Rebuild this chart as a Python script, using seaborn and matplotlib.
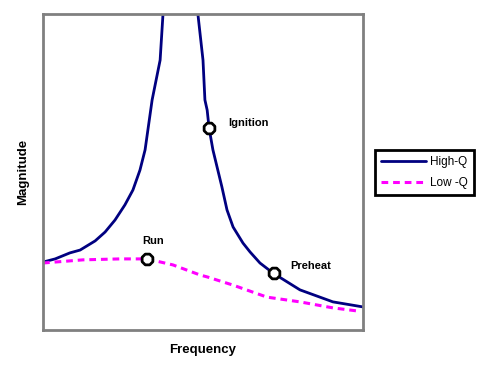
import matplotlib
matplotlib.use("Agg")
import matplotlib.pyplot as plt
import pandas as pd
import seaborn as sns

# values (x: frequency 0-100, y: magnitude 0-100)
high_q_x = [0, 3.8, 8.4, 11.6, 16.3, 19.4, 22.5, 25.6, 28.1, 30.3, 31.9, 34.1, 36.6, 37.5, 38.1,
            48.1, 48.4, 50.0, 50.6, 51.3, 51.9, 53.1, 55.9, 57.5, 59.4, 62.5, 64.7, 67.8, 71.9,
            80.3, 90.6, 100]
high_q_y = [21.5, 22.5, 24.4, 25.3, 28.2, 31.0, 34.8, 39.6, 44.3, 50.6, 57.0, 72.8, 85.4, 100, 108,
            108, 100, 85.4, 72.8, 69.6, 63.9, 57.0, 45.3, 38.0, 32.6, 27.5, 24.7, 21.2, 18.0,
            12.7, 8.9, 7.3]
low_q_x = [0, 12.5, 24.1, 32.5, 40.6, 49.1, 51.3, 59.4, 70.0, 80.3, 90.6, 98.4]
low_q_y = [21.2, 22.2, 22.5, 22.5, 20.6, 17.4, 16.8, 14.2, 10.4, 8.9, 7.0, 6.0]

point_names = ["Run", "Ignition", "Preheat"]
point_x = [32.5, 51.9, 72.2]
point_y = [22.5, 63.9, 18.0]
label_x = [34.4, 57.8, 77.2]
label_y = [28.2, 65.5, 20.3]

sns.set_style("white")
plt.rcParams["font.family"] = ["Liberation Sans", "DejaVu Sans"]
plt.rcParams["text.color"] = "black"
plt.rcParams["axes.labelcolor"] = "black"

fig = plt.figure(figsize=(4.8, 3.75), dpi=100)
ax = fig.add_axes([43 / 480, 45 / 375, 320 / 480, 316 / 375])

high = pd.DataFrame({"x": high_q_x, "y": high_q_y})
low = pd.DataFrame({"x": low_q_x, "y": low_q_y})
sns.lineplot(data=high, x="x", y="y", ax=ax, color="#000080", lw=2, sort=False,
             label="High-Q", estimator=None)
sns.lineplot(data=low, x="x", y="y", ax=ax, color="#FF00FF", lw=2.2, sort=False,
             label="Low -Q", estimator=None, linestyle=(0, (2.2, 1.6)))

pts = pd.DataFrame({"x": point_x, "y": point_y})
sns.scatterplot(data=pts, x="x", y="y", ax=ax, marker="8", s=70, color="white",
                edgecolor="black", linewidth=2, zorder=5, legend=False)
for name, lx, ly in zip(point_names, label_x, label_y):
    ha = "center" if name == "Run" else "left"
    ax.text(lx, ly, name, fontsize=8, fontweight="bold", ha=ha, va="center")

ax.set_xlim(0, 100)
ax.set_ylim(0, 100)
ax.set_xticks([])
ax.set_yticks([])
ax.set_xlabel("Frequency", fontsize=9.5, fontweight="bold", labelpad=10)
ax.set_ylabel("Magnitude", fontsize=9.5, fontweight="bold", labelpad=10)
for sp in ax.spines.values():
    sp.set_color("#808080")
    sp.set_linewidth(2)

leg = ax.legend(loc="upper left", bbox_to_anchor=(375 / 480, 1 - 150 / 375),
                bbox_transform=fig.transFigure, fontsize=8.5, fancybox=False,
                frameon=True, handlelength=3.8, borderpad=0.5, labelspacing=0.8,
                handletextpad=0.4, borderaxespad=0)
leg.get_frame().set_edgecolor("black")
leg.get_frame().set_linewidth(2)
leg.get_frame().set_alpha(1)

fig.savefig("out.png", dpi=100)
